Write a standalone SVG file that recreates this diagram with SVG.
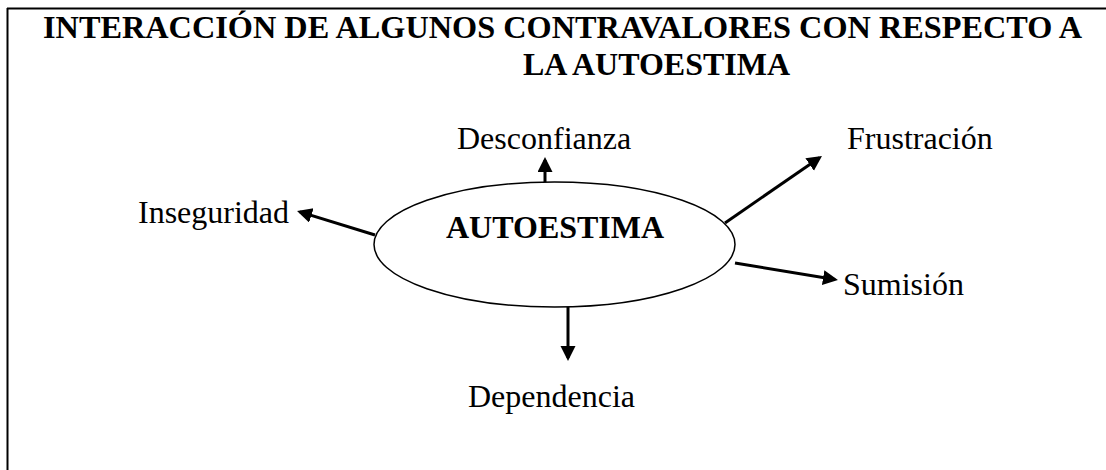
<svg xmlns="http://www.w3.org/2000/svg" width="1106" height="470" viewBox="0 0 1106 470">
<style>
.t{font-family:"Liberation Serif","Times New Roman",serif;font-weight:bold;font-size:32px;fill:#000}
.lbl{font-family:"Liberation Serif","Times New Roman",serif;font-size:32px;fill:#000}
.c{stroke:#000;stroke-width:3;fill:none}
.frame{stroke:#000;stroke-width:2;fill:none}
</style>
<defs>
<marker id="ah" markerUnits="userSpaceOnUse" markerWidth="16" markerHeight="16" refX="12" refY="7.5" orient="auto">
<path d="M0,0 L15,7.5 L0,15 z" fill="#000"/>
</marker>
</defs>
<rect width="1106" height="470" fill="#fff"/>
<g id="frame">
<line class="frame" x1="7" y1="8.5" x2="1106" y2="8.5"/>
<line class="frame" x1="7.5" y1="8" x2="7.5" y2="470"/>
</g>
<g id="title">
<text class="t" x="43" y="38" textLength="1039" lengthAdjust="spacingAndGlyphs">INTERACCIÓN DE ALGUNOS CONTRAVALORES CON RESPECTO A</text>
<text class="t" x="523" y="75">LA AUTOESTIMA</text>
</g>
<g id="connectors">
<line class="c" x1="545" y1="182" x2="545" y2="160" marker-end="url(#ah)"/>
<line class="c" x1="375" y1="235" x2="299.9" y2="211.9" marker-end="url(#ah)"/>
<line class="c" x1="725" y1="223" x2="819.5" y2="157.7" marker-end="url(#ah)"/>
<line class="c" x1="735" y1="263" x2="835" y2="279.5" marker-end="url(#ah)"/>
<line class="c" x1="568" y1="307" x2="568" y2="358" marker-end="url(#ah)"/>
</g>
<g id="autoestima">
<ellipse cx="554.5" cy="244.5" rx="180.5" ry="62.5" fill="#fff" stroke="#000" stroke-width="1.5"/>
<text class="t" x="446" y="238">AUTOESTIMA</text>
</g>
<g id="desconfianza"><text class="lbl" x="457" y="149">Desconfianza</text></g>
<g id="frustracion"><text class="lbl" x="847" y="149">Frustración</text></g>
<g id="inseguridad"><text class="lbl" x="138" y="223">Inseguridad</text></g>
<g id="sumision"><text class="lbl" x="843" y="295">Sumisión</text></g>
<g id="dependencia"><text class="lbl" x="468" y="407">Dependencia</text></g>
</svg>
